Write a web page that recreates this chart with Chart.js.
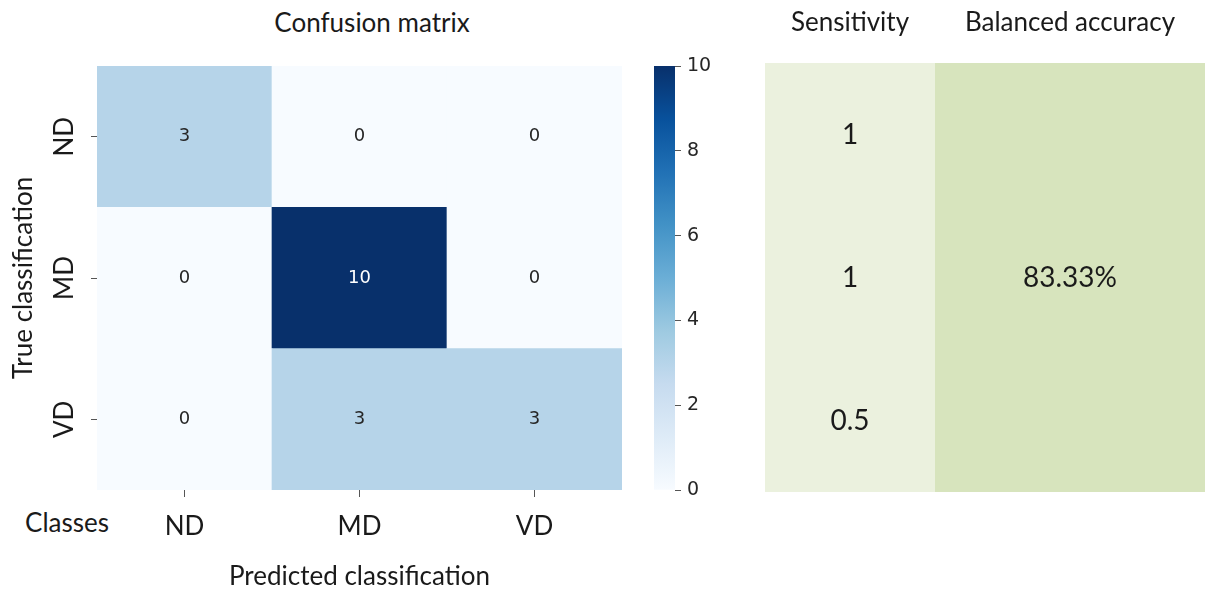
<!DOCTYPE html>
<html>
<head>
<meta charset="utf-8">
<script src="https://cdn.jsdelivr.net/npm/chart.js@4.4.1/dist/chart.umd.min.js"></script>
<style>
  html, body { margin: 0; padding: 0; background: #fff; }
  body { width: 1205px; height: 592px; position: relative; overflow: hidden; font-family: Lato, sans-serif; color: #1a1a1a; }
  .box { position: absolute; top: 0; height: 592px; }
  .txt { position: absolute; font-size: 26px; line-height: 1; white-space: nowrap; transform: translate(-50%, -50%); }
</style>
</head>
<body>
<div class="txt" style="left:372px; top:22px;">Confusion matrix</div>
<div class="txt" style="left:67px; top:522px;">Classes</div>

<div class="box" style="left:0; width:640px;"><canvas id="cmChart"></canvas></div>
<div class="box" style="left:640px; width:100px;"><canvas id="cbarChart"></canvas></div>
<div class="box" style="left:740px; width:195px;"><canvas id="sensChart"></canvas></div>
<div class="box" style="left:935px; width:270px;"><canvas id="baChart"></canvas></div>

<script>
// datos
const classes = ['ND', 'MD', 'VD'];
const confusion = [
    [3, 0, 0],   // ND
    [0, 10, 0],  // MD
    [0, 3, 3]    // VD
];
const colorbarTicks = [0, 2, 4, 6, 8, 10];
const metricNames = ['Sensitivity', 'Balanced accuracy'];
const sensitivity = [1, 1, 0.5];
const balancedAccuracy = ['83.33%'];

// matplotlib "Blues"
const bluesStops = ['#f7fbff', '#deebf7', '#c6dbef', '#9ecae1', '#6baed6', '#4292c6', '#2171b5', '#08519c', '#08306b'];
const vMin = colorbarTicks[0];
const vMax = colorbarTicks[colorbarTicks.length - 1];

function hexToRgb(h) {
    return [parseInt(h.substr(1, 2), 16), parseInt(h.substr(3, 2), 16), parseInt(h.substr(5, 2), 16)];
}

function bluesColor(v) {
    let t = (v - vMin) / (vMax - vMin);
    t = Math.max(0, Math.min(1, t)) * (bluesStops.length - 1);
    let i = Math.min(Math.floor(t), bluesStops.length - 2);
    let f = t - i;
    let a = hexToRgb(bluesStops[i]), b = hexToRgb(bluesStops[i + 1]);
    let c = a.map((x, k) => Math.round(x + (b[k] - x) * f));
    return 'rgb(' + c.join(',') + ')';
}

Chart.defaults.animation = false;
Chart.defaults.responsive = true;
Chart.defaults.maintainAspectRatio = false;
Chart.defaults.plugins.legend.display = false;
Chart.defaults.plugins.tooltip.enabled = false;

const labelFont = { family: 'Lato', size: 26 };

// escribe el texto de cada celda en el centro de la barra
const cellTextPlugin = {
    id: 'cellText',
    afterDatasetsDraw(chart) {
        const ctx = chart.ctx;
        chart.data.datasets.forEach((ds, di) => {
            if (!ds.cellText) return;
            const meta = chart.getDatasetMeta(di);
            meta.data.forEach((bar, i) => {
                ctx.save();
                ctx.font = ds.cellFont;
                ctx.fillStyle = ds.cellColor[i];
                ctx.textAlign = 'center';
                ctx.textBaseline = 'middle';
                ctx.fillText(ds.cellText[i], bar.x, (bar.y + bar.base) / 2);
                ctx.restore();
            });
        });
    }
};

// ---- matriz de confusion ----
let cmDatasets = [];
for (let r = classes.length - 1; r >= 0; r--) {
    let row = confusion[r];
    cmDatasets.push({
        data: row.map(() => 1),
        backgroundColor: row.map(v => bluesColor(v)),
        borderWidth: 0,
        barPercentage: 1,
        categoryPercentage: 1,
        cellText: row.map(v => String(v)),
        cellColor: row.map(v => (v > (vMax - vMin) / 2 ? '#ffffff' : '#262626')),
        cellFont: '18px "DejaVu Sans"'
    });
}

new Chart(document.getElementById('cmChart'), {
    type: 'bar',
    data: { labels: classes, datasets: cmDatasets },
    options: {
        layout: { padding: { top: 66, right: 18, left: 0, bottom: 0 } },
        scales: {
            x: {
                stacked: true,
                afterFit: s => { s.height = 102; },
                border: { display: false },
                grid: { drawOnChartArea: false, offset: false, tickLength: 7, color: '#555' },
                ticks: { font: labelFont, color: '#1a1a1a', padding: 14 },
                title: { display: true, text: 'Predicted classification', font: labelFont, color: '#1a1a1a', padding: { top: 0, bottom: 0 } }
            },
            y: {
                stacked: true,
                min: 0,
                max: classes.length,
                afterFit: s => { s.width = 97; },
                afterBuildTicks: s => {
                    s.ticks = classes.map((c, i) => ({ value: i + 0.5 }));
                },
                border: { display: false },
                grid: { drawOnChartArea: false, tickLength: 6, color: '#555' },
                ticks: {
                    font: labelFont, color: '#1a1a1a', padding: 4,
                    minRotation: 90, maxRotation: 90, crossAlign: 'center',
                    callback: v => classes[classes.length - 1 - Math.floor(v)]
                },
                title: { display: true, text: 'True classification', font: labelFont, color: '#1a1a1a', padding: { top: 8, bottom: 0 } }
            }
        }
    },
    plugins: [cellTextPlugin]
});

// ---- barra de color ----
new Chart(document.getElementById('cbarChart'), {
    type: 'bar',
    data: {
        labels: [''],
        datasets: [{
            data: [[vMin, vMax]],
            borderWidth: 0,
            barPercentage: 1,
            categoryPercentage: 1,
            backgroundColor: c => {
                const area = c.chart.chartArea;
                if (!area) return bluesStops[0];
                const y = c.chart.scales.y;
                const g = c.chart.ctx.createLinearGradient(0, y.getPixelForValue(vMin), 0, y.getPixelForValue(vMax));
                bluesStops.forEach((col, i) => g.addColorStop(i / (bluesStops.length - 1), col));
                return g;
            }
        }]
    },
    options: {
        layout: { padding: { top: 66, left: 14, right: 0, bottom: 102 } },
        scales: {
            x: { display: false },
            y: {
                position: 'right',
                min: vMin,
                max: vMax,
                afterFit: s => { s.width = 65; },
                afterBuildTicks: s => { s.ticks = colorbarTicks.map(v => ({ value: v })); },
                border: { display: false },
                grid: { drawOnChartArea: false, tickLength: 6, color: '#555' },
                ticks: { font: { family: 'DejaVu Sans', size: 19 }, color: '#262626', padding: 6 }
            }
        }
    }
});

// ---- tabla de sensibilidad y exactitud balanceada ----
function metricChart(id, name, texts, color) {
    let ds = [];
    for (let r = texts.length - 1; r >= 0; r--) {
        ds.push({
            data: [1],
            backgroundColor: color,
            borderWidth: 0,
            barPercentage: 1,
            categoryPercentage: 1,
            cellText: [String(texts[r])],
            cellColor: ['#1a1a1a'],
            cellFont: '28px Lato'
        });
    }
    return new Chart(document.getElementById(id), {
        type: 'bar',
        data: { labels: [name], datasets: ds },
        options: {
            layout: { padding: { top: 0, left: 25, right: 0, bottom: 100 } },
            scales: {
                x: {
                    stacked: true,
                    position: 'top',
                    afterFit: s => { s.height = 63; },
                    border: { display: false },
                    grid: { display: false },
                    ticks: { font: labelFont, color: '#1a1a1a', padding: 17 }
                },
                y: { stacked: true, display: false, min: 0, max: texts.length }
            }
        },
        plugins: [cellTextPlugin]
    });
}

metricChart('sensChart', metricNames[0], sensitivity, '#ebf1de');
// una sola celda que ocupa las tres filas
new Chart(document.getElementById('baChart'), {
    type: 'bar',
    data: {
        labels: [metricNames[1]],
        datasets: [{
            data: [[0, sensitivity.length]],
            backgroundColor: '#d7e4bd',
            borderWidth: 0,
            barPercentage: 1,
            categoryPercentage: 1,
            cellText: balancedAccuracy,
            cellColor: ['#1a1a1a'],
            cellFont: '28px Lato'
        }]
    },
    options: {
        layout: { padding: { top: 0, left: 0, right: 0, bottom: 100 } },
        scales: {
            x: {
                position: 'top',
                afterFit: s => { s.height = 63; },
                border: { display: false },
                grid: { display: false },
                ticks: { font: labelFont, color: '#1a1a1a', padding: 17 }
            },
            y: { display: false, min: 0, max: sensitivity.length }
        }
    },
    plugins: [cellTextPlugin]
});
</script>
</body>
</html>
